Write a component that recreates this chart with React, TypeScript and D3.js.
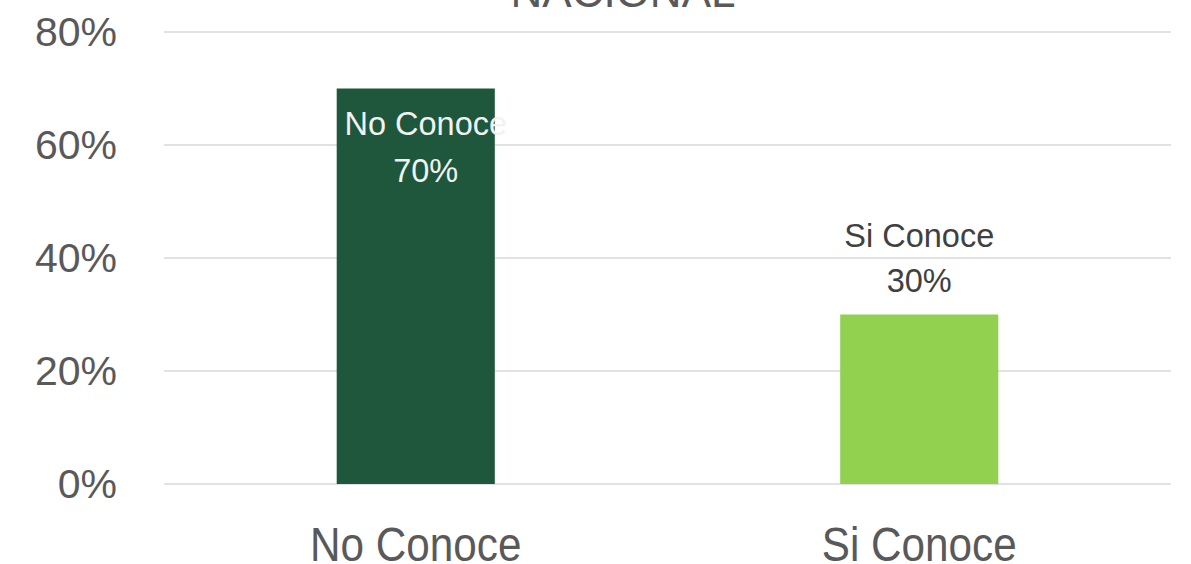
import React from 'react';
import * as d3 from 'd3';

// chart data
const categories = ['No Conoce', 'Si Conoce'];
const values = [0.7, 0.3];
const barColors = ['#1e573b', '#92d050'];
const yTicks = [0, 0.2, 0.4, 0.6, 0.8];
const title = 'NACIONAL';

const W = 1191;
const H = 564;
const margin = { top: 32, right: 20, bottom: 80, left: 164 };

const App = () => {
  const x = d3.scaleBand<string>()
    .domain(categories)
    .range([margin.left, W - margin.right]);

  const y = d3.scaleLinear()
    .domain([0, 0.8])
    .range([H - margin.bottom, margin.top]);

  const barW = x.bandwidth() * 0.314;
  const fmt = d3.format('.0%');
  const font = '"Liberation Sans", Arial, sans-serif';

  return (
    <svg width={W} height={H} style={{ position: 'absolute', left: 0, top: 0, background: '#fff' }}>
      {/* title, partly off the top */}
      <text x={623} y={7} textAnchor="middle" fontSize={44} fill="#595959" fontFamily={font}>
        {title}
      </text>

      {/* gridlines + y labels */}
      {yTicks.map(t => (
        <g key={t}>
          <line x1={margin.left} x2={W - margin.right} y1={y(t)} y2={y(t)} stroke="#d9d9d9" strokeWidth={1.5} />
          <text x={117} y={y(t) + 14} textAnchor="end" fontSize={41} fill="#595959" fontFamily={font}>
            {fmt(t)}
          </text>
        </g>
      ))}

      {/* bars */}
      {categories.map((c, i) => {
        const cx = x(c)! + x.bandwidth() / 2;
        const top = y(values[i]);
        const inside = i === 0;
        const labelX = inside ? cx + 10 : cx;
        const y1 = inside ? top + 46 : top - 68;
        const y2 = inside ? top + 93 : top - 23;
        const col = inside ? '#f2f2f2' : '#404040';
        return (
          <g key={c}>
            <rect x={cx - barW / 2} y={top} width={barW} height={y(0) - top} fill={barColors[i]} />
            <text x={labelX} y={y1} textAnchor="middle" fontSize={32.5} fill={col} fontFamily={font}>{c}</text>
            <text x={labelX} y={y2} textAnchor="middle" fontSize={32.5} fill={col} fontFamily={font}>{fmt(values[i])}</text>
            {/* category label, squeezed sideways like a narrow face */}
            <text transform={`translate(${cx},561) scale(0.88,1)`} textAnchor="middle" fontSize={48}
              fill="#595959" fontFamily={font}>
              {c}
            </text>
          </g>
        );
      })}
    </svg>
  );
};

export default App;
